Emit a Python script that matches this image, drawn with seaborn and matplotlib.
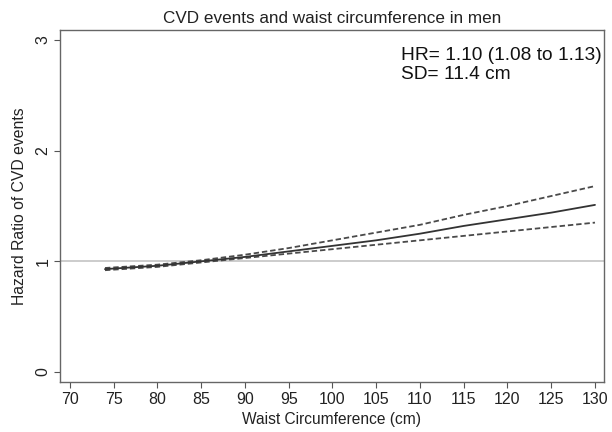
import numpy as np
import pandas as pd
import matplotlib
matplotlib.use("Agg")
import matplotlib.pyplot as plt
import seaborn as sns

waist = [74, 80, 85, 90, 95, 100, 105, 110, 115, 120, 125, 130]
hr_est = [0.93, 0.96, 1.00, 1.04, 1.09, 1.14, 1.19, 1.25, 1.32, 1.38, 1.44, 1.51]
hr_upper = [0.94, 0.97, 1.01, 1.06, 1.12, 1.19, 1.26, 1.33, 1.42, 1.50, 1.59, 1.68]
hr_lower = [0.92, 0.95, 0.99, 1.03, 1.07, 1.11, 1.15, 1.19, 1.23, 1.27, 1.31, 1.35]
x_ticks = [70, 75, 80, 85, 90, 95, 100, 105, 110, 115, 120, 125, 130]
y_ticks = [0, 1, 2, 3]

sns.set_style("white")
plt.rcParams['font.family'] = ['Liberation Sans', 'DejaVu Sans']

df = pd.DataFrame({"waist": waist, "est": hr_est, "upper": hr_upper, "lower": hr_lower})

fig = plt.figure(figsize=(6.12, 4.32), dpi=100)
ax = fig.add_axes([60/612, 50/432, 544/612, 352/432])

ax.axhline(1, color="#c8c8c8", lw=1.3, zorder=1)
sns.lineplot(data=df, x="waist", y="upper", ax=ax, color="#4a4a4a", lw=1.3,
             linestyle=(0, (3, 1.6)))
sns.lineplot(data=df, x="waist", y="lower", ax=ax, color="#4a4a4a", lw=1.3,
             linestyle=(0, (3, 1.6)))
sns.lineplot(data=df, x="waist", y="est", ax=ax, color="#333333", lw=1.3)

ax.set_xlim(68.86, 131.03)
ax.set_ylim(-0.09, 3.09)
ax.set_xticks(x_ticks)
ax.set_yticks(y_ticks)
ax.set_yticklabels([str(t) for t in y_ticks], rotation=90, va="center")
ax.tick_params(axis="both", direction="out", length=4, width=0.8, color="#555555",
               labelsize=11.5, pad=3, left=True, bottom=True, labelcolor="#222222")
for s in ax.spines.values():
    s.set_color("#666666")
    s.set_linewidth(1.0)

ax.set_xlabel("Waist Circumference (cm)", fontsize=11.2, labelpad=4, color="#222222")
ax.set_ylabel("Hazard Ratio of CVD events", fontsize=11.3, labelpad=6, color="#222222")
ax.set_title("CVD events and waist circumference in men", fontsize=12.3, pad=5, color="#222222")

ax.text(0.627, 0.953, "HR= 1.10 (1.08 to 1.13)\nSD= 11.4 cm", transform=ax.transAxes,
        fontsize=13.8, va="top", ha="left", linespacing=1.22, color="#111111")

fig.savefig("out.png", dpi=100)
